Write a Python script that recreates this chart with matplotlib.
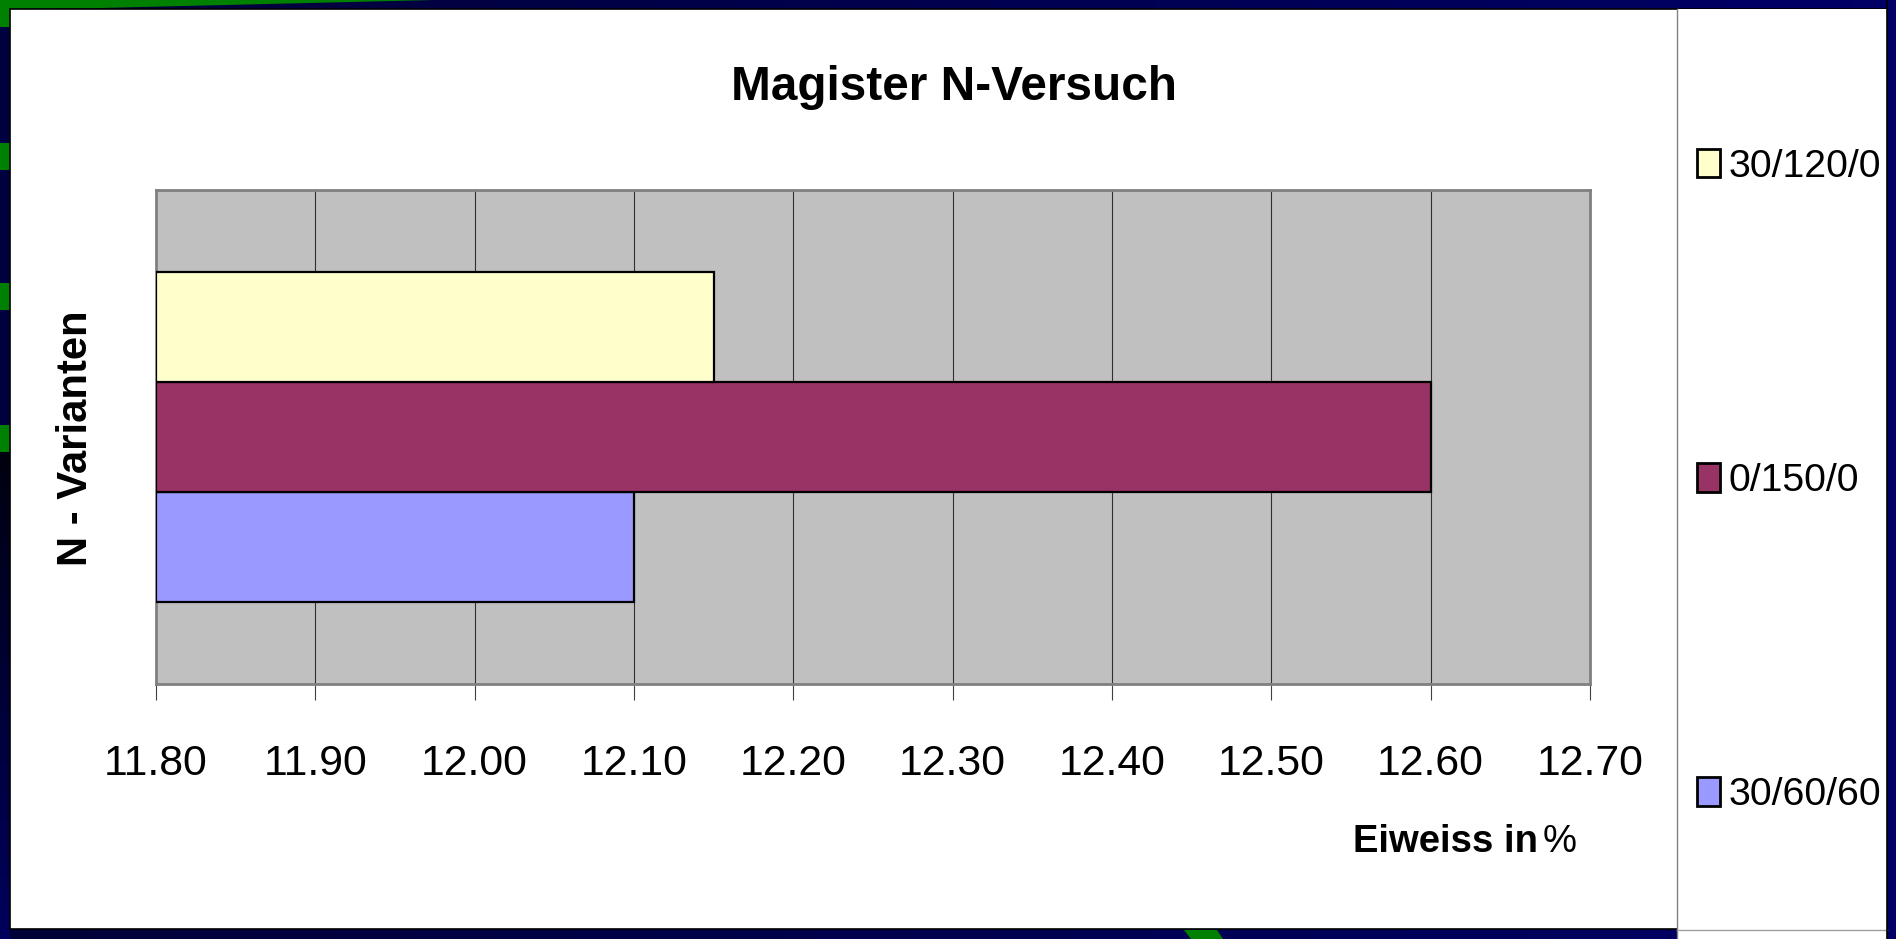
import numpy as np
import matplotlib
matplotlib.use("Agg")
import matplotlib.pyplot as plt
from matplotlib import font_manager
from matplotlib.patches import Rectangle, Polygon
from matplotlib.colors import LinearSegmentedColormap

# data
series = ["30/60/60", "0/150/0", "30/120/0"]
values = [12.10, 12.60, 12.15]
colors = ["#9999FF", "#993366", "#FFFFCC"]
xticks = [11.80, 11.90, 12.00, 12.10, 12.20, 12.30, 12.40, 12.50, 12.60, 12.70]
xmin, xmax = 11.80, 12.70

names = {f.name for f in font_manager.fontManager.ttflist}
narrow = "Liberation Sans Narrow" if "Liberation Sans Narrow" in names else "Liberation Sans"
sq = 1.0 if narrow == "Liberation Sans Narrow" else 0.86
plt.rcParams["font.family"] = [narrow, "DejaVu Sans"]

W, H = 1896, 939
fig = plt.figure(figsize=(W / 100, H / 100), dpi=100)

# background (slide frame)
bg = fig.add_axes([0, 0, 1, 1], zorder=-10)
grad = np.linspace(0, 1, 256)[None, :]
cm = LinearSegmentedColormap.from_list("bgc", ["#000038", "#000066"])
bg.imshow(grad, cmap=cm, extent=(0, W, H, 0), aspect="auto")
bg.add_patch(Rectangle((0, 27), 10, 425, color="#000040", lw=0))
lgrad = np.linspace(0, 1, 256)[:, None]
cm2 = LinearSegmentedColormap.from_list("lc", ["#000010", "#00005e"])
bg.imshow(lgrad, cmap=cm2, extent=(0, 10, H, 452), aspect="auto")
bg.set_xlim(0, W)
bg.set_ylim(H, 0)
bg.axis("off")
for y0 in [0, 143, 283, 425]:
    bg.add_patch(Rectangle((0, y0), 10, 27, color="#008000", lw=0))
bg.add_patch(Polygon([(0, 0), (435, 0), (100, 8), (0, 9)], closed=True, color="#008000", lw=0))
bg.add_patch(Polygon([(1184, 930), (1217, 930), (1223, 939), (1191, 939)], closed=True, color="#008000", lw=0))
# white panels
bg.add_patch(Rectangle((10, 9), 1877, 920, facecolor="white", edgecolor="black", lw=1.2))
bg.add_patch(Rectangle((1677, 9), 210, 940, facecolor="white", edgecolor="none", lw=0))
bg.plot([1677, 1677], [9, 939], color="#808080", lw=1)
bg.plot([1677, 1887], [930, 930], color="#a0a0a0", lw=1)
bg.plot([1887, 1887], [0, 939], color="black", lw=1.2)

# chart text
bg.text(954, 100, "Magister N-Versuch", fontsize=40 * sq, fontweight="bold", ha="center", va="baseline")
bg.text(76, 438, "N - Varianten", fontsize=35 * sq, fontweight="bold", rotation=90,
        ha="center", va="center")
bg.text(1538, 852, "Eiweiss in", fontsize=32 * sq, fontweight="bold", ha="right", va="baseline")
bg.text(1543, 852, "%", fontsize=32 * sq, ha="left", va="baseline")

# main axes
ax = fig.add_axes([156 / W, 1 - 684 / H, (1590 - 156) / W, (684 - 190) / H])
ax.set_facecolor("#C0C0C0")
ypos = [-1, 0, 1]
bars = []
for y, v, c, s in zip(ypos, values, colors, series):
    b = ax.barh(y, v - xmin, left=xmin, height=1.0, color=c, edgecolor="black",
                linewidth=1.6, label=s, zorder=3)
    bars.append(b)
ax.set_xlim(xmin, xmax)
ax.set_ylim(-2.25, 2.25)
ax.set_xticks(xticks)
ax.set_xticklabels([f"{t:.2f}" for t in xticks])
ax.set_yticks([])
ax.tick_params(axis="x", direction="out", length=11.5, width=0.8, color="#404040",
               labelsize=35 * 0.88, pad=32)
ax.grid(axis="x", color="#303030", linewidth=0.8, zorder=1)
for sp in ax.spines.values():
    sp.set_color("#808080")
    sp.set_linewidth(2)

leg = ax.legend(handles=bars[::-1], loc="center left",
                bbox_to_anchor=(1697 / W, 1 - 481 / H), bbox_transform=fig.transFigure,
                frameon=False, fontsize=34 * 0.83, handlelength=0.59, handleheight=0.74,
                handletextpad=0.22, labelspacing=7.1, borderpad=0, borderaxespad=0)
for p in leg.get_patches():
    p.set_linewidth(2)

fig.savefig("out.png", dpi=100, facecolor=fig.get_facecolor())
